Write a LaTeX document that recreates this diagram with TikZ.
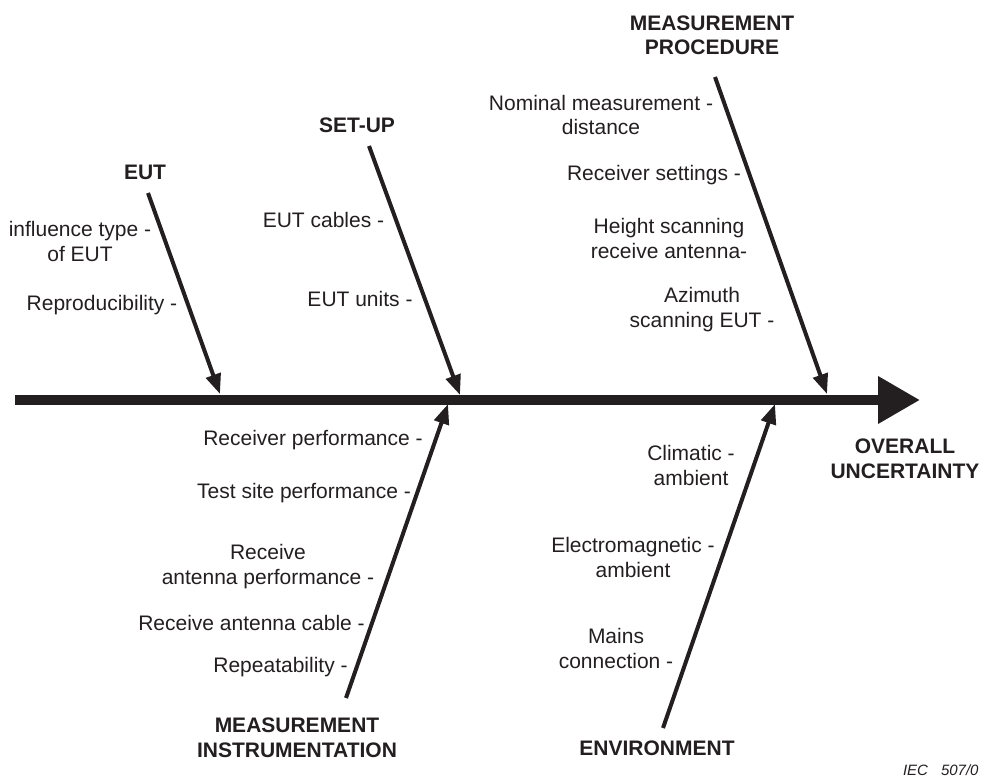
\documentclass[tikz,border=0pt]{standalone}
\usepackage{fontspec}
\setmainfont{Liberation Sans}
\usetikzlibrary{arrows.meta}
\definecolor{ink}{RGB}{35,31,32}
\begin{document}
\begin{tikzpicture}[x=1pt,y=-1pt,
  every node/.style={inner sep=0pt,outer sep=0pt,text=ink},
  lbl/.style={font=\fontsize{21}{24.5}\selectfont,align=center,anchor=base},
  ttl/.style={font=\fontsize{21}{24.5}\selectfont\bfseries,align=center,anchor=base},
  spine/.style={draw=ink,line width=10pt,-{Triangle[length=42pt,width=45pt]}},
  bone/.style={draw=ink,line width=4pt,-{Triangle[length=20pt,width=15pt]}}]
\useasboundingbox (0,0) rectangle (984,778);
% spine
\coordinate (s0) at (15,400);
\coordinate (s1) at (920,400);
\draw[spine] (s0) -- (s1);
% branch ends
\coordinate (eut0) at (148,193);   \coordinate (eut1) at (220,394);
\coordinate (set0) at (369,146);   \coordinate (set1) at (460,395);
\coordinate (mp0) at (715,77);     \coordinate (mp1) at (827,394);
\coordinate (mi0) at (346,698);    \coordinate (mi1) at (448,404);
\coordinate (env0) at (663,728);   \coordinate (env1) at (775,404);
\draw[bone] (eut0) -- (eut1);
\draw[bone] (set0) -- (set1);
\draw[bone] (mp0) -- (mp1);
\draw[bone] (mi0) -- (mi1);
\draw[bone] (env0) -- (env1);
% titles (multi-line nodes: base = last line's baseline)
\node[ttl] (tEUT) at (145,179) {EUT};
\node[ttl] (tSET) at (357,133) {SET-UP};
\node[ttl] (tMP) at (712,55) {MEASUREMENT\\PROCEDURE};
\node[ttl] (tOU) at (905,478) {OVERALL\\UNCERTAINTY};
\node[ttl] (tMI) at (297,757) {MEASUREMENT\\INSTRUMENTATION};
\node[ttl] (tENV) at (657,755) {ENVIRONMENT};
% EUT causes
\node[lbl] (c1) at (80,261) {influence type -\\of EUT};
\node[lbl] (c2) at (102,310) {Reproducibility -};
% SET-UP causes
\node[lbl] (c3) at (323.5,227) {EUT cables -};
\node[lbl] (c4) at (360,306) {EUT units -};
% Measurement procedure causes
\node[lbl] (c5) at (601,135) {Nominal measurement -\\distance};
\node[lbl] (c6) at (654,180) {Receiver settings -};
\node[lbl] (c7) at (669,258) {Height scanning\\receive antenna-};
\node[lbl] (c8) at (702,327) {Azimuth\\scanning EUT -};
% Measurement instrumentation causes
\node[lbl] (c9) at (313,445) {Receiver performance -};
\node[lbl] (c10) at (304,498) {Test site performance -};
\node[lbl] (c11) at (268,584) {Receive\\antenna performance -};
\node[lbl] (c12) at (251.5,630) {Receive antenna cable -};
\node[lbl] (c13) at (280.5,672) {Repeatability -};
% Environment causes
\node[lbl] (c14) at (691,485) {Climatic -\\ambient};
\node[lbl] (c15) at (633,577) {Electromagnetic -\\ambient};
\node[lbl] (c16) at (616,668) {Mains\\connection -};
% figure number
\node[anchor=base west,font=\fontsize{15}{18}\selectfont\itshape] (iec) at (903,775) {IEC\hspace{13pt}507/0};
\end{tikzpicture}
\end{document}
